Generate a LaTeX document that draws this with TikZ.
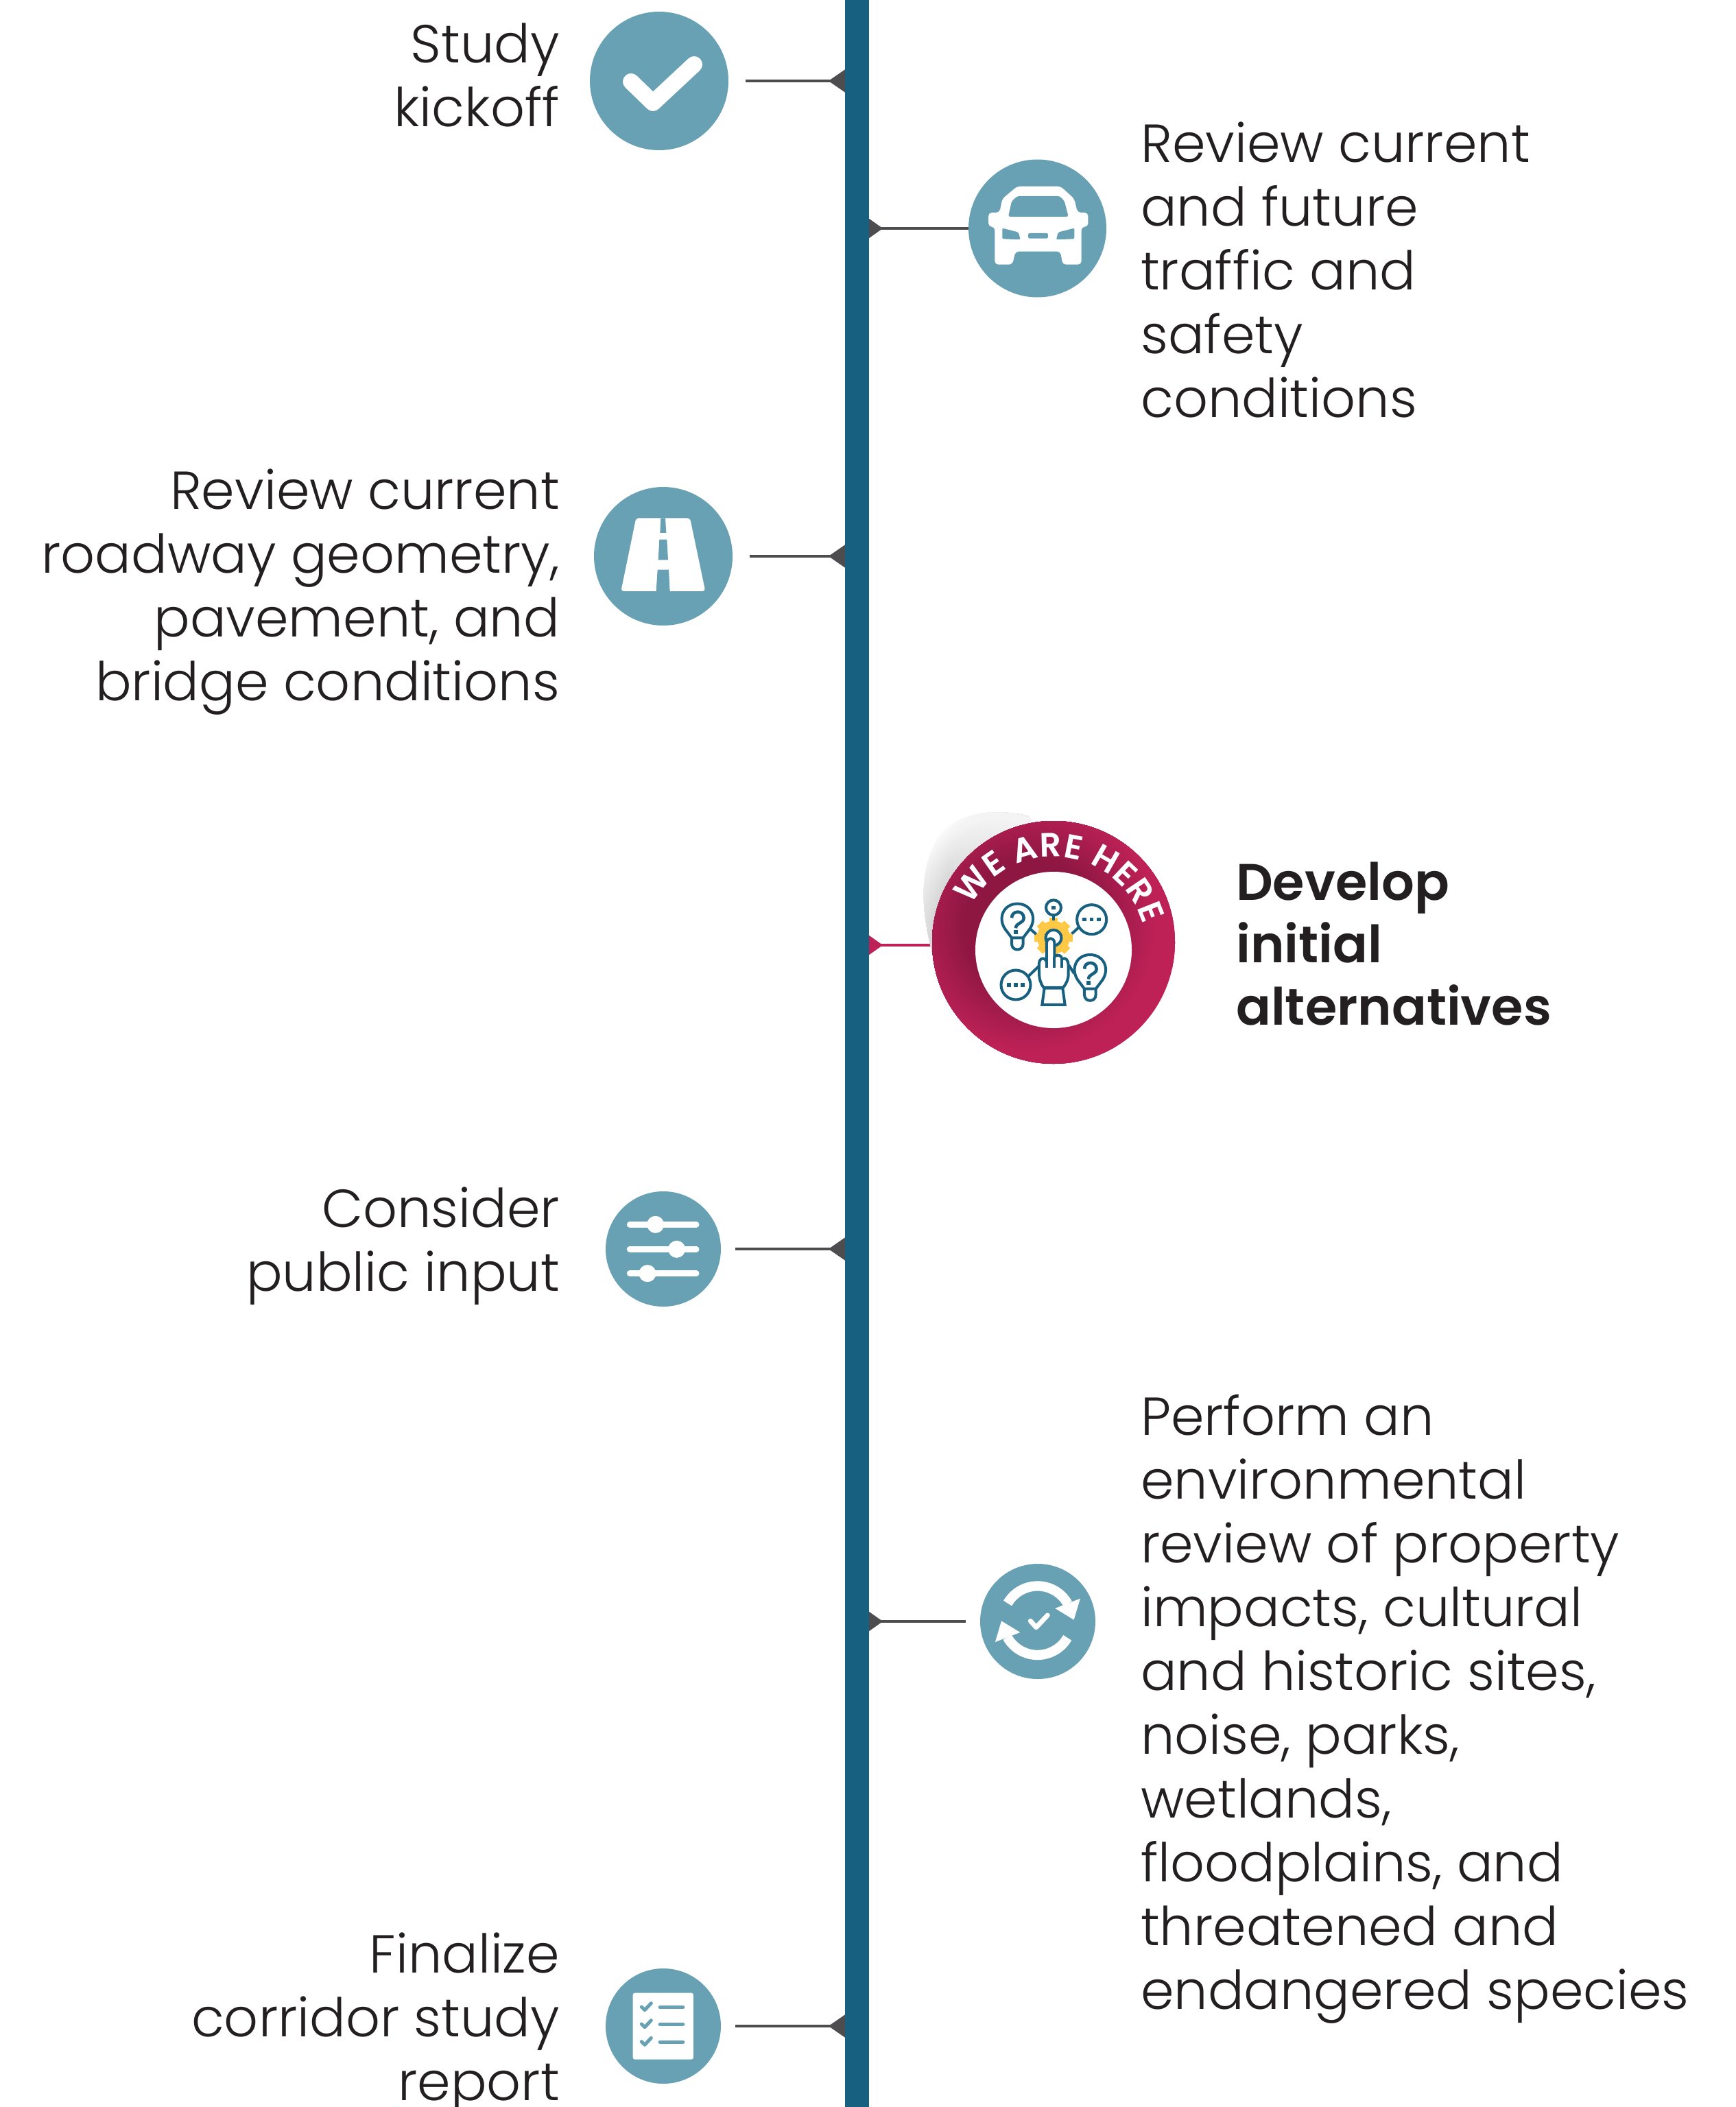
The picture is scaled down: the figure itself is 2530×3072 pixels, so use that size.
\documentclass[tikz,border=0pt]{standalone}
\usepackage{fontspec}
\setmainfont{Poppins}[UprightFont=* Light,BoldFont=* SemiBold]
\usetikzlibrary{arrows.meta,decorations.text}
\definecolor{barblue}{HTML}{17607F}
\definecolor{softteal}{HTML}{69A1B4}
\definecolor{tickgray}{HTML}{4D4D4F}
\definecolor{inkdark}{HTML}{231F20}
\definecolor{ringbright}{HTML}{BD2156}
\definecolor{ringdark}{HTML}{8A1640}
\definecolor{gearyellow}{HTML}{FFC845}
\tikzset{
  x=1pt,y=-1pt,
  iconcircle/.style={circle,fill=softteal,inner sep=0pt,draw=none},
  ticktip/.style={-{Triangle[reversed,length=24pt,width=32pt,color=tickgray]},draw=tickgray,line width=4.3pt},
  ticktipR/.style={-{Triangle[reversed,length=20pt,width=27pt,color=tickgray]},draw=tickgray,line width=4.3pt},
  leftlabel/.style={anchor=base east,align=right,inner sep=0pt,text=inkdark,font=\fontsize{78}{93}\selectfont},
  rightlabel/.style={anchor=base west,align=left,inner sep=0pt,text=inkdark,font=\fontsize{78}{93}\selectfont},
  boldlabel/.style={anchor=base west,align=left,inner sep=0pt,text=inkdark,font=\fontsize{75}{91}\selectfont\bfseries},
  iconline/.style={draw=barblue,line width=4pt,fill=white},
}
\begin{document}
\begin{tikzpicture}
\useasboundingbox (0,0) rectangle (2530,3072);
\fill[white] (0,0) rectangle (2530,3072);

% timeline bar and anchors
\coordinate (c1) at (1087,118);
\coordinate (c2) at (1412,333);
\coordinate (c3) at (1093,811);
\coordinate (c4) at (1359,1378);
\coordinate (c5) at (1072,1821);
\coordinate (c6) at (1408,2364);
\coordinate (c7) at (1072,2954);
\node[rectangle,fill=barblue,inner sep=0pt,minimum width=35pt,minimum height=3072pt] (bar) at (1249.5,1536) {};

% connectors
\draw[ticktip] (c1) -- (c1 -| bar.west);
\draw[ticktipR] (c2) -- (c2 -| bar.east);
\draw[ticktip] (c3) -- (c3 -| bar.west);
\draw[-{Triangle[reversed,length=20pt,width=27pt,color=ringbright]},draw=ringbright,line width=4.3pt] (c4) -- (c4 -| bar.east);
\draw[ticktip] (c5) -- (c5 -| bar.west);
\draw[ticktipR] (c6) -- (c6 -| bar.east);
\draw[ticktip] (c7) -- (c7 -| bar.west);

% circles
\node[iconcircle,minimum size=202pt] (n1) at (961,118) {};
\node[iconcircle,minimum size=201pt] (n2) at (1512.5,333) {};
\node[iconcircle,minimum size=202pt] (n3) at (967,811) {};
\node[iconcircle,minimum size=168pt] (n5) at (967,1821) {};
\node[iconcircle,minimum size=168pt] (n6) at (1513,2364) {};
\node[iconcircle,minimum size=168pt] (n7) at (967,2954) {};

% check icon
\draw[white,line width=24pt,line cap=round,line join=round] (920,119) -- (952,150) -- (1012,94);

% car icon (zoom 2 coordinates)
\begin{scope}[shift={(800,0)},x=0.574pt,y=-0.3333pt]
  \fill[white,rounded corners=5pt] (1190,815) -- (1300,815) -- (1335,870) -- (1343,930) -- (1370,930) -- (1370,992) -- (1353,992) -- (1353,1157) -- (1305,1157) -- (1300,1100) -- (1185,1100) -- (1178,1157) -- (1133,1157) -- (1133,992) -- (1117,992) -- (1117,930) -- (1145,930) -- (1152,870) -- cycle;
  \fill[softteal,rounded corners=3pt] (1190,858) -- (1298,858) -- (1310,880) -- (1320,948) -- (1167,948) -- (1176,880) -- cycle;
  \fill[softteal,rounded corners=2pt] (1152,998) -- (1193,1016) -- (1198,1048) -- (1152,1045) -- cycle;
  \fill[softteal,rounded corners=2pt] (1335,998) -- (1294,1016) -- (1289,1048) -- (1335,1045) -- cycle;
  \fill[softteal,rounded corners=2pt] (1218,1020) rectangle (1268,1043);
\end{scope}

% road icon (zoom 3 coordinates)
\begin{scope}[shift={(840,680)},x=0.3333pt,y=-0.3333pt]
  \fill[white,rounded corners=4pt] (262,226) -- (498,226) -- (565,546) -- (196,546) -- cycle;
  \fill[softteal] (370,226) -- (390,226) -- (394,291) -- (367,291) -- cycle;
  \fill[softteal] (364,320) -- (397,320) -- (402,409) -- (359,409) -- cycle;
  \fill[softteal] (356,452) -- (405,452) -- (410,547) -- (350,547) -- cycle;
\end{scope}

% slider icon (zoom 4 coordinates)
\begin{scope}[shift={(850,1700)},x=0.3333pt,y=-0.3333pt]
  \draw[white,line width=9pt,line cap=round] (205,256) -- (495,256);
  \draw[white,line width=9pt,line cap=round] (205,363) -- (495,363);
  \draw[white,line width=9pt,line cap=round] (205,470) -- (495,470);
  \fill[white] (317,256) circle[radius=12.5pt];
  \fill[white] (410,364) circle[radius=12.5pt];
  \fill[white] (282,470) circle[radius=12.5pt];
\end{scope}

% cycle icon (zoom 5 coordinates)
\begin{scope}[shift={(1240,2250)},x=0.3333pt,y=-0.3333pt]
  \coordinate (cy) at (818,338);
  \draw[white,line width=14.3pt] (cy) ++(150:50.3pt) arc[start angle=150,end angle=29,radius=50.3pt];
  \draw[white,line width=14.3pt] (cy) ++(330:50.3pt) arc[start angle=330,end angle=209,radius=50.3pt];
  \fill[white] (895,285) -- (1005,242) -- (977,335) -- cycle;
  \fill[white] (742,390) -- (633,432) -- (660,340) -- cycle;
  \draw[white,line width=7pt,line cap=round,line join=round] (787,340) -- (812,368) -- (862,315);
\end{scope}

% checklist icon (zoom 6 coordinates)
\begin{scope}[shift={(850,2840)},x=0.3333pt,y=-0.3333pt]
  \fill[white,rounded corners=3pt] (218,197) rectangle (483,488);
  \foreach \yy in {258,333,410}{
    \draw[softteal,line width=5pt,line cap=round,line join=round] (256,\yy) -- (270,\yy+14) -- (298,\yy-16);
    \draw[softteal,line width=5.5pt,line cap=round] (337,\yy+2) -- (437,\yy+2);
  }
\end{scope}

% we-are-here shadow
\begin{scope}
  \clip (1362,1400) .. controls (1340,1320) and (1342,1270) .. (1365,1225) .. controls (1385,1190) and (1440,1175) .. (1500,1190) -- (1536,1300) -- cycle;
  \foreach \i in {0,...,30}{
    \pgfmathsetmacro{\rr}{235-\i*1.95}
    \pgfmathsetmacro{\pp}{\i*100/30}
    \fill[black!16!white!\pp!white] (1536,1374) circle[radius=\rr pt];
  }
  \foreach \i in {0,...,24}{
    \fill[white,opacity=0.09] (1385+6*\i,1170) rectangle (1600,1400);
  }
\end{scope}

% we-are-here ring
\node[circle,inner sep=0pt,minimum size=354pt,fill=ringbright] (n4) at (1536,1374) {};
\begin{scope}
  \clip (n4.center) circle[radius=177pt];
  \foreach \i in {0,...,48}{
    \pgfmathsetmacro{\rr}{215-\i*2.5}
    \pgfmathsetmacro{\pp}{max(0,min(100,(\rr-90)*100/92))}
    \fill[ringbright!\pp!ringdark] (1503,1350) circle[radius=\rr pt];
  }
\end{scope}
\node[circle,fill=white,inner sep=0pt,minimum size=228pt] (n4i) at (1536,1385) {};

% curved text
\path[decorate,decoration={text along path,text align={fit to path},
  text={|\fontsize{49}{49}\selectfont\bfseries\color{white}|WE ARE HERE}}]
  (n4i.center) ++(152:136pt) arc[start angle=152,end angle=16,radius=136pt];

% ideas icon (zoom 1 coordinates)
\begin{scope}[shift={(1300,1150)},x=0.3333pt,y=-0.3333pt]
  % gear
  \fill[gearyellow] (708,650) circle[radius=24pt];
  \foreach \a in {0,45,...,315}{
    \fill[gearyellow,rotate around={\a:(708,650)}] (690,565) rectangle (726,620);
  }
  % connectors
  \draw[barblue,line width=4pt] (708,550) -- (708,575);
  \draw[barblue,line width=4pt] (608,615) -- (632,636);
  \draw[barblue,line width=4pt] (788,634) -- (828,598);
  \draw[barblue,line width=4pt] (598,820) -- (645,775);
  \draw[barblue,line width=4pt] (775,772) -- (798,808);
  % small top circle
  \draw[iconline] (708,520) circle[radius=11pt];
  \fill[barblue] (700,512) rectangle (716,528);
  % speech circles
  \draw[iconline] (875,572) circle[radius=21.5pt];
  \foreach \xx in {843,875,906}{\fill[barblue] (\xx-8,564) rectangle (\xx+8,580);}
  \draw[iconline] (543,858) circle[radius=21.5pt];
  \foreach \xx in {513,543,573}{\fill[barblue] (\xx-8,850) rectangle (\xx+8,866);}
  % bulbs
  \foreach \dx/\dy in {0/0,318/223}{
    \begin{scope}[shift={(\dx,\dy)}]
      \draw[iconline] (525,652) -- (525,678) .. controls (525,712) and (575,712) .. (575,678) -- (575,652);
      \draw[iconline,line join=round] (525,652) -- (497,615) .. controls (462,565) and (490,503) .. (550,503) .. controls (610,503) and (638,565) .. (603,615) -- (575,652) -- cycle;
      \draw[barblue,line width=4.5pt] (525,565) .. controls (525,530) and (578,530) .. (578,565) .. controls (578,590) and (543,585) .. (543,610);
      \fill[barblue] (534,618) rectangle (552,635);
    \end{scope}
  }
  % target ring
  \draw[barblue,line width=4pt,fill=white] (708,652) circle[radius=11.5pt];
  % hand
  \draw[iconline,line join=round] (665,870) .. controls (650,850) and (645,830) .. (645,800) -- (645,765) .. controls (645,735) and (678,735) .. (678,765) -- (678,675) .. controls (678,648) and (712,648) .. (712,675) -- (712,735) .. controls (725,720) and (745,730) .. (745,745) .. controls (760,735) and (773,750) .. (773,770) -- (773,810) .. controls (773,835) and (765,850) .. (750,870) -- cycle;
  \draw[barblue,line width=4pt] (678,765) -- (678,782);
  \draw[barblue,line width=4pt] (712,735) -- (712,782);
  \draw[barblue,line width=4pt] (745,745) -- (745,782);
  \draw[iconline,line join=miter] (668,872) -- (748,872) -- (758,945) -- (658,945) -- cycle;
\end{scope}

% labels
\node[leftlabel] (t1) at (816,185) {Study\\kickoff};
\node[rightlabel] (t2) at (1663,608) {Review current\\and future\\traffic and\\safety\\conditions};
\node[leftlabel] (t3) at (816,1021) {Review current\\roadway geometry,\\pavement, and\\bridge conditions};
\node[boldlabel] (t4) at (1802,1494) {Develop\\initial\\alternatives};
\node[leftlabel] (t5) at (816,1882) {Consider\\public input};
\node[rightlabel] (t6) at (1663,2929) {Perform an\\environmental\\review of property\\impacts, cultural\\and historic sites,\\noise, parks,\\wetlands,\\floodplains, and\\threatened and\\endangered species};
\node[leftlabel] (t7) at (816,3062) {Finalize\\corridor study\\report};
\end{tikzpicture}
\end{document}
